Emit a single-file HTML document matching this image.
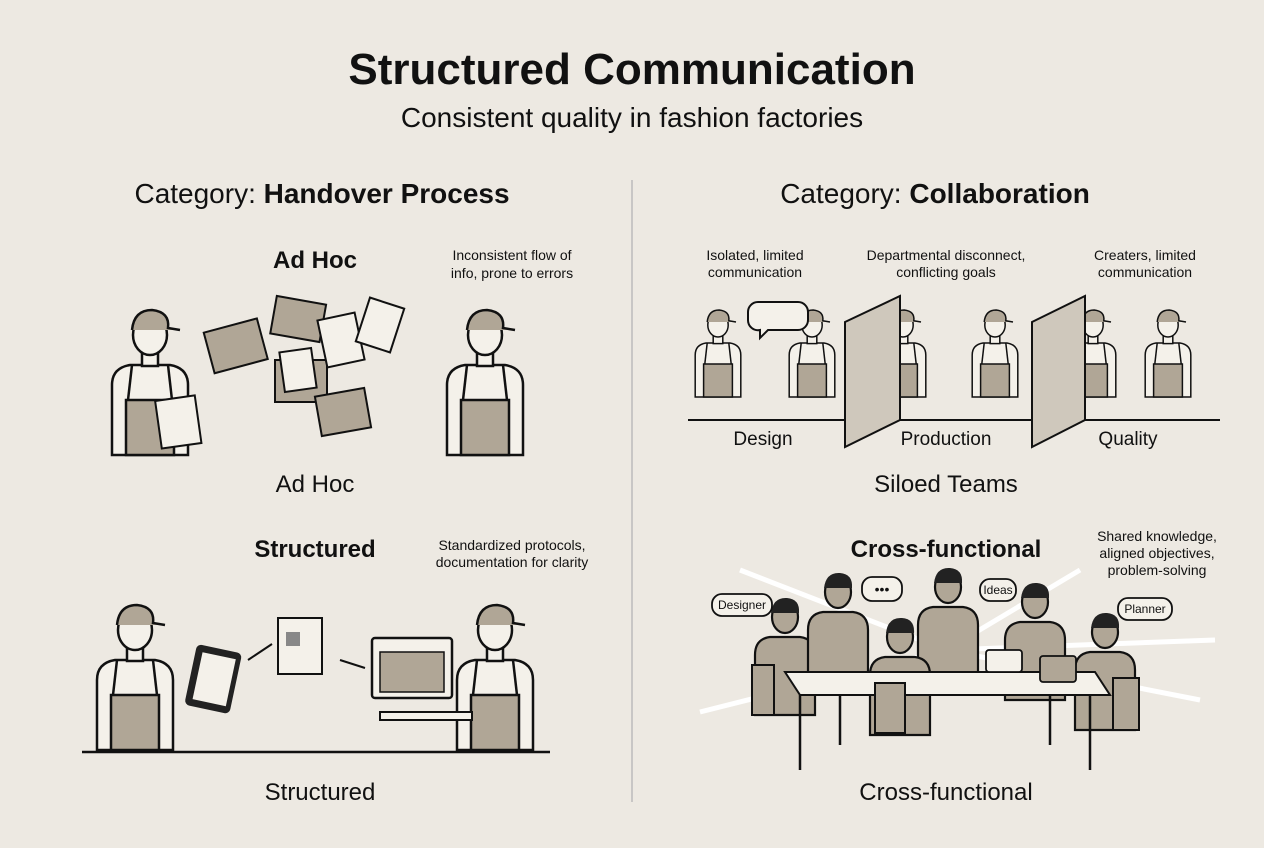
<!DOCTYPE html>
<html><head><meta charset="utf-8"><style>
html,body{margin:0;padding:0;background:#ede9e2;}
svg{display:block;}
text{font-family:"Liberation Sans",sans-serif;fill:#111;}
</style></head><body>
<svg width="1264" height="848" viewBox="0 0 1264 848" xmlns="http://www.w3.org/2000/svg">
<defs>
<g id="p">
  <path d="M-38,45 L-38,-25 Q-38,-42 -20,-45 L20,-45 Q38,-42 38,-25 L38,45 Z" fill="#f4f1ea" stroke="#111" stroke-width="2.5"/>
  <path d="M-24,45 L-24,-10 L24,-10 L24,45 Z" fill="#b0a696" stroke="#111" stroke-width="2.5"/>
  <line x1="-22" y1="-10" x2="-18" y2="-45" stroke="#111" stroke-width="2.5"/>
  <line x1="22" y1="-10" x2="18" y2="-45" stroke="#111" stroke-width="2.5"/>
  <rect x="-8" y="-58" width="16" height="14" fill="#f4f1ea" stroke="#111" stroke-width="2.5"/>
  <ellipse cx="0" cy="-75" rx="17" ry="20" fill="#f4f1ea" stroke="#111" stroke-width="2.5"/>
  <path d="M-18,-80 Q-16,-100 2,-100 Q20,-98 18,-82 L30,-80" fill="#b0a696" stroke="#111" stroke-width="2.5"/>
</g>
<g id="q">
  <path d="M-30,40 L-30,-20 Q-30,-36 -15,-38 L15,-38 Q30,-36 30,-20 L30,40 Z" fill="#b0a696" stroke="#111" stroke-width="2.2"/>
  <ellipse cx="0" cy="-58" rx="13" ry="16" fill="#b0a696" stroke="#111" stroke-width="2.2"/>
  <path d="M-14,-62 Q-12,-78 2,-77 Q15,-76 14,-62" fill="#222"/>
</g>
</defs>

<text x="632" y="84" font-size="44" font-weight="bold" text-anchor="middle">Structured Communication</text>
<text x="632" y="127" font-size="28" text-anchor="middle">Consistent quality in fashion factories</text>
<line x1="632" y1="180" x2="632" y2="802" stroke="#bbb" stroke-width="1.5"/>

<text x="322" y="203" font-size="28" text-anchor="middle">Category: <tspan font-weight="bold">Handover Process</tspan></text>
<text x="935" y="203" font-size="28" text-anchor="middle">Category: <tspan font-weight="bold">Collaboration</tspan></text>

<!-- Ad hoc -->
<text x="315" y="268" font-size="24" font-weight="bold" text-anchor="middle">Ad Hoc</text>
<text x="512" y="260" font-size="14" text-anchor="middle">Inconsistent flow of</text>
<text x="512" y="278" font-size="14" text-anchor="middle">info, prone to errors</text>
<use href="#p" x="150" y="410"/>
<use href="#p" x="485" y="410"/>
<rect x="158" y="398" width="40" height="48" fill="#f4f1ea" stroke="#111" stroke-width="2" transform="rotate(-8 178 420)"/>
<g fill="#b0a696" stroke="#111" stroke-width="2">
<rect x="208" y="325" width="55" height="42" transform="rotate(-15 235 345)"/>
<rect x="273" y="300" width="50" height="38" transform="rotate(10 298 320)"/>
<rect x="275" y="360" width="52" height="42"/>
<rect x="318" y="392" width="50" height="40" transform="rotate(-10 343 412)"/>
</g>
<g fill="#f4f1ea" stroke="#111" stroke-width="2">
<rect x="322" y="316" width="38" height="48" transform="rotate(-12 341 340)"/>
<rect x="362" y="302" width="36" height="46" transform="rotate(18 380 325)"/>
<rect x="282" y="350" width="32" height="40" transform="rotate(-8 298 370)"/>
</g>
<text x="315" y="492" font-size="24" text-anchor="middle">Ad Hoc</text>

<!-- Structured -->
<text x="315" y="557" font-size="24" font-weight="bold" text-anchor="middle">Structured</text>
<text x="512" y="550" font-size="14" text-anchor="middle">Standardized protocols,</text>
<text x="512" y="567" font-size="14" text-anchor="middle">documentation for clarity</text>
<line x1="82" y1="752" x2="550" y2="752" stroke="#111" stroke-width="2.5"/>
<use href="#p" x="135" y="705"/>
<use href="#p" x="495" y="705"/>
<rect x="190" y="648" width="46" height="62" rx="5" fill="#222" transform="rotate(12 213 680)"/>
<rect x="197" y="655" width="34" height="48" fill="#f4f1ea" transform="rotate(12 213 680)"/>
<rect x="278" y="618" width="44" height="56" fill="#f4f1ea" stroke="#111" stroke-width="2"/>
<rect x="286" y="632" width="14" height="14" fill="#888"/>
<rect x="372" y="638" width="80" height="60" rx="3" fill="#f4f1ea" stroke="#111" stroke-width="2.5"/>
<rect x="380" y="652" width="64" height="40" fill="#b0a696" stroke="#111" stroke-width="1.5"/>
<rect x="380" y="712" width="92" height="8" fill="#f4f1ea" stroke="#111" stroke-width="2"/>
<path d="M248,660 L272,644 M340,660 L365,668" stroke="#111" stroke-width="2" fill="none"/>
<text x="320" y="800" font-size="24" text-anchor="middle">Structured</text>

<!-- Siloed -->
<text x="755" y="260" font-size="14" text-anchor="middle">Isolated, limited</text>
<text x="755" y="277" font-size="14" text-anchor="middle">communication</text>
<text x="946" y="260" font-size="14" text-anchor="middle">Departmental disconnect,</text>
<text x="946" y="277" font-size="14" text-anchor="middle">conflicting goals</text>
<text x="1145" y="260" font-size="14" text-anchor="middle">Creaters, limited</text>
<text x="1145" y="277" font-size="14" text-anchor="middle">communication</text>
<line x1="688" y1="420" x2="1220" y2="420" stroke="#111" stroke-width="2"/>
<g transform="translate(718,370) scale(0.6)"><use href="#p"/></g>
<g transform="translate(812,370) scale(0.6)"><use href="#p"/></g>
<g transform="translate(903,370) scale(0.6)"><use href="#p"/></g>
<g transform="translate(995,370) scale(0.6)"><use href="#p"/></g>
<g transform="translate(1093,370) scale(0.6)"><use href="#p"/></g>
<g transform="translate(1168,370) scale(0.6)"><use href="#p"/></g>
<path d="M758,302 h40 a10,10 0 0 1 10,10 v8 a10,10 0 0 1 -10,10 h-30 l-8,8 v-8 a10,10 0 0 1 -12,-10 v-8 a10,10 0 0 1 10,-10z" fill="#f4f1ea" stroke="#111" stroke-width="2"/>
<g fill="#cfc8bc" stroke="#111" stroke-width="2">
<path d="M845,322 L900,296 L900,420 L845,447 Z"/>
<path d="M1032,322 L1085,296 L1085,420 L1032,447 Z"/>
</g>
<text x="763" y="445" font-size="19" text-anchor="middle">Design</text>
<text x="946" y="445" font-size="19" text-anchor="middle">Production</text>
<text x="1128" y="445" font-size="19" text-anchor="middle">Quality</text>
<text x="946" y="492" font-size="24" text-anchor="middle">Siloed Teams</text>

<!-- Cross functional -->
<g stroke="#fff" stroke-width="5">
<line x1="946" y1="650" x2="740" y2="570"/><line x1="946" y1="650" x2="1080" y2="570"/>
<line x1="946" y1="650" x2="700" y2="712"/><line x1="946" y1="650" x2="1200" y2="700"/>
<line x1="946" y1="650" x2="1215" y2="640"/>
</g>
<text x="946" y="557" font-size="24" font-weight="bold" text-anchor="middle">Cross-functional</text>
<text x="1157" y="541" font-size="14" text-anchor="middle">Shared knowledge,</text>
<text x="1157" y="558" font-size="14" text-anchor="middle">aligned objectives,</text>
<text x="1157" y="575" font-size="14" text-anchor="middle">problem-solving</text>
<use href="#q" x="785" y="675"/>
<use href="#q" x="838" y="650"/>
<use href="#q" x="948" y="645"/>
<use href="#q" x="1035" y="660"/>
<use href="#q" x="1105" y="690"/>
<use href="#q" x="900" y="695"/>
<path d="M785,672 L1095,672 L1110,695 L800,695 Z" fill="#f4f1ea" stroke="#111" stroke-width="2"/>
<g stroke="#111" stroke-width="2.5">
<line x1="800" y1="695" x2="800" y2="770"/><line x1="1090" y1="695" x2="1090" y2="770"/>
<line x1="840" y1="695" x2="840" y2="745"/><line x1="1050" y1="695" x2="1050" y2="745"/>
</g>
<g fill="#b0a696" stroke="#111" stroke-width="2">
<rect x="752" y="665" width="22" height="50"/><rect x="1113" y="678" width="26" height="52"/>
<rect x="875" y="683" width="30" height="50"/>
</g>
<g fill="#f4f1ea" stroke="#111" stroke-width="1.8">
<rect x="712" y="594" width="60" height="22" rx="10"/>
<rect x="980" y="579" width="36" height="22" rx="10"/>
<rect x="1118" y="598" width="54" height="22" rx="10"/>
<rect x="862" y="577" width="40" height="24" rx="10"/>
<rect x="986" y="650" width="36" height="22" rx="3"/>
<rect x="1040" y="656" width="36" height="26" rx="3" fill="#b0a696"/>
</g>
<text x="742" y="609" font-size="12" text-anchor="middle">Designer</text>
<text x="998" y="594" font-size="12" text-anchor="middle">Ideas</text>
<text x="1145" y="613" font-size="12" text-anchor="middle">Planner</text>
<text x="882" y="594" font-size="14" text-anchor="middle">•••</text>
<text x="946" y="800" font-size="24" text-anchor="middle">Cross-functional</text>
</svg>
</body></html>
